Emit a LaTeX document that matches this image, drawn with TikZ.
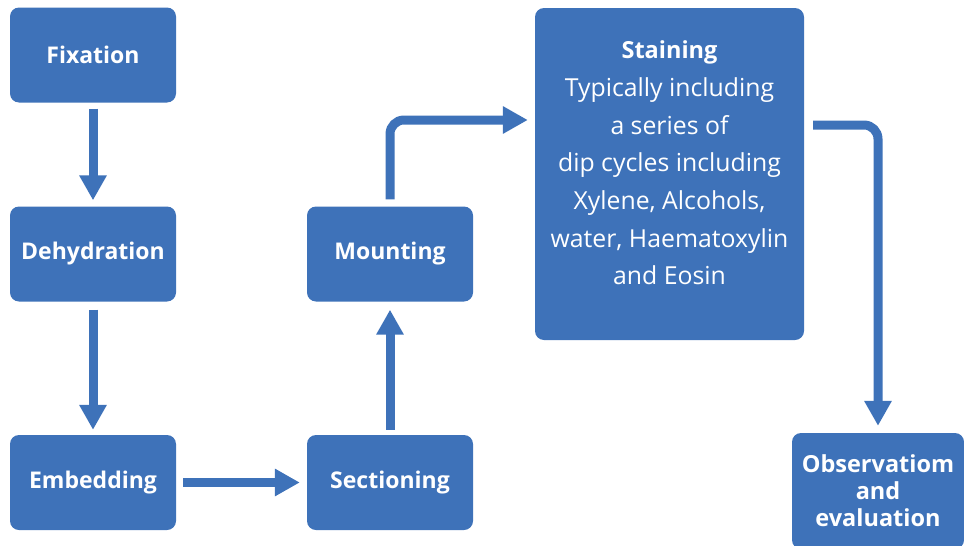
\documentclass[tikz,border=0pt]{standalone}
\usepackage{fontspec}
\setmainfont{Open Sans}
\usetikzlibrary{arrows.meta}
\definecolor{boxblue}{HTML}{3E72B9}
\begin{document}
\begin{tikzpicture}[x=1pt,y=-1pt,
  box/.style={fill=boxblue, rounded corners=9pt, inner sep=0pt, text=white,
    font=\fontsize{23}{27}\selectfont\bfseries, align=center},
  smallbox/.style={box, minimum width=166pt, minimum height=95pt},
  lbl/.style={text=white, inner sep=0pt, align=center},
  conn/.style={draw=boxblue, line width=9pt, -{Triangle[length=25pt,width=26pt]}, rounded corners=14pt}]
\useasboundingbox (0,0) rectangle (964,546);
\clip (0,0) rectangle (964,546);
\node[smallbox] (fix) at (93,55) {Fixation};
\node[smallbox] (dehyd) at (93,254) {Dehydration};
\node[smallbox] (embed) at (93,482.5) {Embedding};
\node[smallbox] (sect) at (390,482.5) {Sectioning};
\node[smallbox] (mount) at (390,254) {Mounting};
\node[box, minimum width=269pt, minimum height=332pt] (stain) at (669.5,174) {};
\node[lbl, font=\fontsize{24.8}{37.7}\selectfont] (stainlbl) at (669.5,163)
  {{\fontsize{23.5}{37.7}\selectfont\bfseries Staining}\\Typically including\\a series of\\dip cycles including\\Xylene, Alcohols,\\water, Haematoxylin\\and Eosin};
\node[box, minimum width=172pt, minimum height=116pt, font=\fontsize{23.5}{27}\selectfont\bfseries] (obs) at (878,491) {Observatiom\\and\\evaluation};
\coordinate (c1) at (0,120);
\coordinate (c2) at (0,125);
\draw[conn, shorten <=6pt, shorten >=6pt] (fix) -- (dehyd);
\draw[conn, shorten <=8pt, shorten >=5pt] (dehyd) -- (embed);
\draw[conn, shorten <=7pt, shorten >=7pt] (embed) -- (sect);
\draw[conn, shorten <=5pt, shorten >=8pt] (sect) -- (mount);
\draw[conn, shorten <=7pt, shorten >=7pt] (mount.north) |- (stain.west |- c1);
\draw[conn, shorten <=9pt, shorten >=7pt] (stain.east |- c2) -| (obs.north);
\end{tikzpicture}
\end{document}
